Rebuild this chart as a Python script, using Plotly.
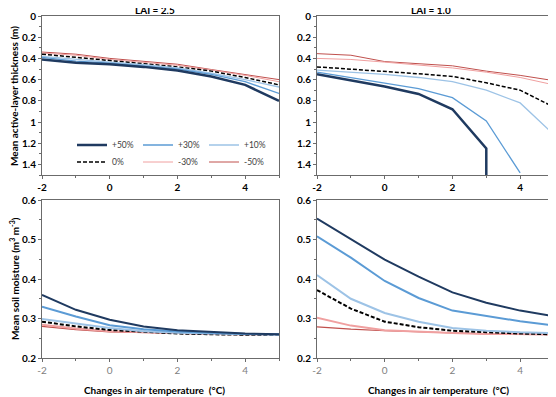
import plotly.graph_objects as go
from plotly.subplots import make_subplots

# air temperature change (deg C)
temp_change = [-2, -1, 0, 1, 2, 3, 4, 5]
tick_vals = [-2, 0, 2, 4]
tick_text = ['-2', '0', '2', '4']

series_names = ['+50%', '+30%', '+10%', '0%', '-30%', '-50%']

# mean active-layer thickness (m), LAI = 2.5
alt_lai25_p50 = [0.41, 0.44, 0.455, 0.48, 0.515, 0.57, 0.65, 0.80]
alt_lai25_p30 = [0.39, 0.425, 0.445, 0.47, 0.50, 0.55, 0.62, 0.73]
alt_lai25_p10 = [0.38, 0.41, 0.435, 0.46, 0.49, 0.54, 0.60, 0.67]
alt_lai25_0 = [0.36, 0.39, 0.42, 0.45, 0.48, 0.52, 0.58, 0.65]
alt_lai25_m30 = [0.35, 0.37, 0.41, 0.44, 0.465, 0.51, 0.56, 0.62]
alt_lai25_m50 = [0.34, 0.36, 0.40, 0.43, 0.455, 0.505, 0.55, 0.60]

# mean active-layer thickness (m), LAI = 1.0
alt_lai10_p50_x = [-2, -1, 0, 1, 2, 3, 3]
alt_lai10_p50 = [0.55, 0.61, 0.665, 0.735, 0.88, 1.25, 1.5]
alt_lai10_p30_x = [-2, -1, 0, 1, 2, 3, 4]
alt_lai10_p30 = [0.53, 0.58, 0.63, 0.685, 0.77, 0.99, 1.48]
alt_lai10_p10 = [0.51, 0.53, 0.55, 0.58, 0.62, 0.70, 0.82, 1.12]
alt_lai10_0 = [0.48, 0.50, 0.52, 0.545, 0.57, 0.63, 0.70, 0.86]
alt_lai10_m30 = [0.40, 0.41, 0.435, 0.46, 0.49, 0.53, 0.58, 0.65]
alt_lai10_m50 = [0.355, 0.37, 0.43, 0.45, 0.47, 0.52, 0.56, 0.61]

# mean soil moisture (m3 m-3), LAI = 2.5
sm_lai25_p50 = [0.36, 0.322, 0.297, 0.28, 0.27, 0.266, 0.262, 0.26]
sm_lai25_p30 = [0.33, 0.305, 0.283, 0.273, 0.267, 0.264, 0.261, 0.26]
sm_lai25_p10 = [0.299, 0.287, 0.276, 0.268, 0.264, 0.262, 0.26, 0.259]
sm_lai25_0 = [0.292, 0.28, 0.271, 0.267, 0.262, 0.26, 0.259, 0.258]
sm_lai25_m30 = [0.284, 0.275, 0.268, 0.265, 0.263, 0.261, 0.26, 0.259]
sm_lai25_m50 = [0.28, 0.272, 0.266, 0.264, 0.262, 0.261, 0.26, 0.259]

# mean soil moisture (m3 m-3), LAI = 1.0
sm_lai10_p50 = [0.553, 0.501, 0.449, 0.406, 0.366, 0.34, 0.32, 0.306]
sm_lai10_p30 = [0.508, 0.454, 0.395, 0.352, 0.32, 0.306, 0.293, 0.282]
sm_lai10_p10 = [0.41, 0.35, 0.314, 0.292, 0.276, 0.269, 0.265, 0.263]
sm_lai10_0 = [0.372, 0.325, 0.292, 0.278, 0.269, 0.265, 0.262, 0.26]
sm_lai10_m30 = [0.302, 0.282, 0.27, 0.266, 0.263, 0.261, 0.26, 0.26]
sm_lai10_m50 = [0.279, 0.273, 0.269, 0.266, 0.263, 0.261, 0.26, 0.259]

colors = ['#1F3A60', '#5B9BD5', '#9DC3E6', 'black', '#F0A0A0', '#C0504D']
dashes = ['solid', 'solid', 'solid', '4px,2px', 'solid', 'solid']
top_widths = [2.5, 1.3, 1.3, 1.5, 1, 1]
bottom_widths = [2, 2, 2, 2, 2, 1.2]
FONT = 'Lato'

# page has an 8px body margin, so the figure is a bit smaller than the window
W, H = 548, 389


def fx(p):
    return p / W


def fy(p):
    return 1 - p / H


fig = make_subplots(rows=2, cols=2)

# top panels, legend only from top-left
panels = [
    (1, 1, [temp_change] * 6,
     [alt_lai25_p50, alt_lai25_p30, alt_lai25_p10, alt_lai25_0, alt_lai25_m30, alt_lai25_m50], top_widths, True),
    (1, 2, [alt_lai10_p50_x, alt_lai10_p30_x] + [temp_change] * 4,
     [alt_lai10_p50, alt_lai10_p30, alt_lai10_p10, alt_lai10_0, alt_lai10_m30, alt_lai10_m50], top_widths, False),
    (2, 1, [temp_change] * 6,
     [sm_lai25_p50, sm_lai25_p30, sm_lai25_p10, sm_lai25_0, sm_lai25_m30, sm_lai25_m50], bottom_widths, False),
    (2, 2, [temp_change] * 6,
     [sm_lai10_p50, sm_lai10_p30, sm_lai10_p10, sm_lai10_0, sm_lai10_m30, sm_lai10_m50], bottom_widths, False),
]

for row, col, xs, ys, widths, show in panels:
    # draw from last to first so the +50% line sits on top
    for i in reversed(range(6)):
        fig.add_trace(go.Scatter(
            x=xs[i], y=ys[i], mode='lines', name=series_names[i],
            line=dict(color=colors[i], width=widths[i], dash=dashes[i]),
            showlegend=show, legend='legend' if i < 3 else 'legend2',
            legendrank=i,
        ), row=row, col=col)

axis_color = '#6b6b6b'
left_x = [fx(34), fx(271)]
right_x = [fx(309), fx(546)]
top_y = [fy(167), fy(8)]
bot_y = [fy(350), fy(192)]

common = dict(showgrid=False, zeroline=False, showline=True, linecolor=axis_color,
              linewidth=1, mirror=True, ticks='outside', ticklen=3, tickcolor=axis_color,
              automargin=False)

for r, c, dx, dy in [(1, 1, left_x, top_y), (1, 2, right_x, top_y),
                     (2, 1, left_x, bot_y), (2, 2, right_x, bot_y)]:
    if r == 1:
        xfont = dict(family=FONT, size=10, color='black', weight='bold')
    else:
        xfont = dict(family=FONT, size=10, color='#808080')
    fig.update_xaxes(range=[-2, 5], tickvals=tick_vals, ticktext=tick_text, tickfont=xfont,
                     minor=dict(dtick=1, tick0=-2, ticks='outside', ticklen=2, tickcolor=axis_color),
                     domain=dx, row=r, col=c, **common)
    yfont = dict(family=FONT, size=10, color='black', weight='bold')
    if r == 1:
        fig.update_yaxes(range=[1.5, 0], tick0=0, dtick=0.2, tickfont=yfont,
                         minor=dict(dtick=0.1, tick0=0, ticks='outside', ticklen=2, tickcolor=axis_color),
                         domain=dy, row=r, col=c, **common)
    else:
        fig.update_yaxes(range=[0.2, 0.6], tick0=0.2, dtick=0.1, tickformat='.1f', tickfont=yfont,
                         minor=dict(dtick=0.05, tick0=0.2, ticks='outside', ticklen=2, tickcolor=axis_color),
                         domain=dy, row=r, col=c, **common)

title_font = dict(family=FONT, size=10, color='black', weight='bold')
annotations = [
    dict(text='LAI = 2.5', x=fx(147), y=fy(2)),
    dict(text='LAI = 1.0', x=fx(423), y=fy(2)),
    dict(text='Changes in air temperature  (\u00b0C)', x=fx(146), y=fy(382)),
    dict(text='Changes in air temperature  (\u00b0C)', x=fx(430), y=fy(382)),
    dict(text='Mean active-layer thickness (m)', x=fx(6), y=fy(88), textangle=-90),
    dict(text='Mean soil moisture (m<sup>3</sup> m<sup>-3</sup>)', x=fx(6), y=fy(271), textangle=-90),
]
for a in annotations:
    fig.add_annotation(xref='paper', yref='paper', showarrow=False, xanchor='center', yanchor='middle',
                       font=title_font, **a)

legend_style = dict(orientation='h', xanchor='left', yanchor='middle', x=fx(64),
                    bgcolor='rgba(0,0,0,0)', font=dict(family=FONT, size=8.5, color='#404040'),
                    entrywidth=21, entrywidthmode='pixels', traceorder='normal',
                    itemwidth=30, tracegroupgap=0)

fig.update_layout(
    width=W, height=H,
    margin=dict(l=0, r=0, t=0, b=0, autoexpand=False),
    paper_bgcolor='white', plot_bgcolor='white',
    font=dict(family=FONT, size=10, color='black'),
    legend=dict(y=fy(137), **legend_style),
    legend2=dict(y=fy(154), **legend_style),
)

fig.write_html('out.html')
